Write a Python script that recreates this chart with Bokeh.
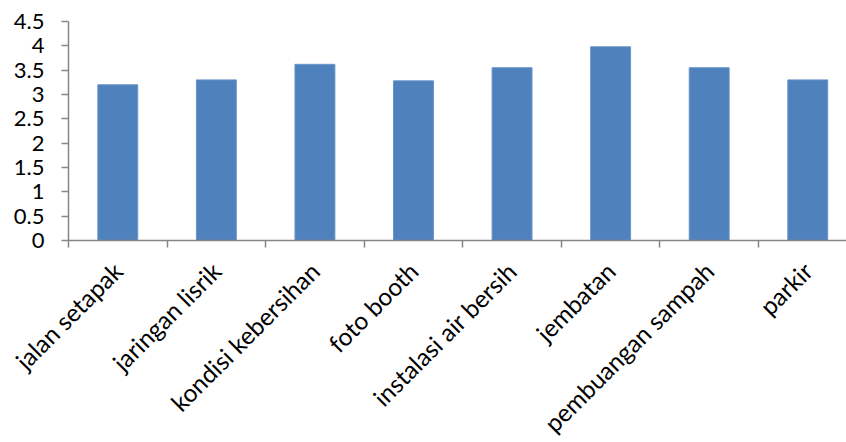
import math
from bokeh.plotting import figure
from bokeh.models import Range1d, FixedTicker
from bokeh.embed import file_html
from bokeh.resources import INLINE

categories = ["jalan setapak", "jaringan lisrik", "kondisi kebersihan", "foto booth",
              "instalasi air bersih", "jembatan", "pembuangan sampah", "parkir"]
values = [3.2, 3.3, 3.62, 3.28, 3.55, 3.98, 3.55, 3.3]
y_ticks = [0, 0.5, 1, 1.5, 2, 2.5, 3, 3.5, 4, 4.5]
y_tick_labels = ["0", "0.5", "1", "1.5", "2", "2.5", "3", "3.5", "4", "4.5"]

centers = [i + 0.5 for i in range(len(categories))]
bounds = list(range(len(categories) + 1))

p = figure(frame_width=778, frame_height=219, output_backend="svg", toolbar_location=None,
           x_range=Range1d(0, 7.893), y_range=Range1d(0, 4.5),
           min_border_left=68, min_border_right=0, min_border_top=21,
           min_border_bottom=150, background_fill_color="white",
           border_fill_color="white")
p.outline_line_color = None
p.xgrid.visible = False
p.ygrid.visible = False

p.vbar(x=centers, top=values, width=0.405, fill_color="#4F81BD", line_color="#6A94C8", line_width=1)

axis_color = "#868686"
font = "Lato"

xa = p.xaxis[0]
xa.ticker = FixedTicker(ticks=centers, minor_ticks=bounds)
xa.major_label_overrides = {c: lab for c, lab in zip(centers, categories)}
xa.major_label_orientation = math.pi / 4
xa.major_tick_line_color = None
xa.minor_tick_line_color = axis_color
xa.minor_tick_line_width = 1.5
xa.minor_tick_out = 7
xa.minor_tick_in = 0
xa.axis_line_color = axis_color
xa.axis_line_width = 1.5
xa.major_label_text_font = font
xa.major_label_text_font_size = "24.5px"
xa.major_label_text_color = "black"
xa.major_label_standoff = 19

ya = p.yaxis[0]
ya.ticker = FixedTicker(ticks=y_ticks, minor_ticks=[])
ya.major_label_overrides = {t: lab for t, lab in zip(y_ticks, y_tick_labels)}
ya.major_tick_line_color = axis_color
ya.major_tick_line_width = 1.5
ya.major_tick_out = 7
ya.major_tick_in = 0
ya.minor_tick_line_color = None
ya.axis_line_color = axis_color
ya.axis_line_width = 1.5
ya.major_label_text_font = font
ya.major_label_text_font_size = "22px"
ya.major_label_text_color = "black"
ya.major_label_standoff = 17

open("out.html", "w").write(file_html(p, INLINE))
